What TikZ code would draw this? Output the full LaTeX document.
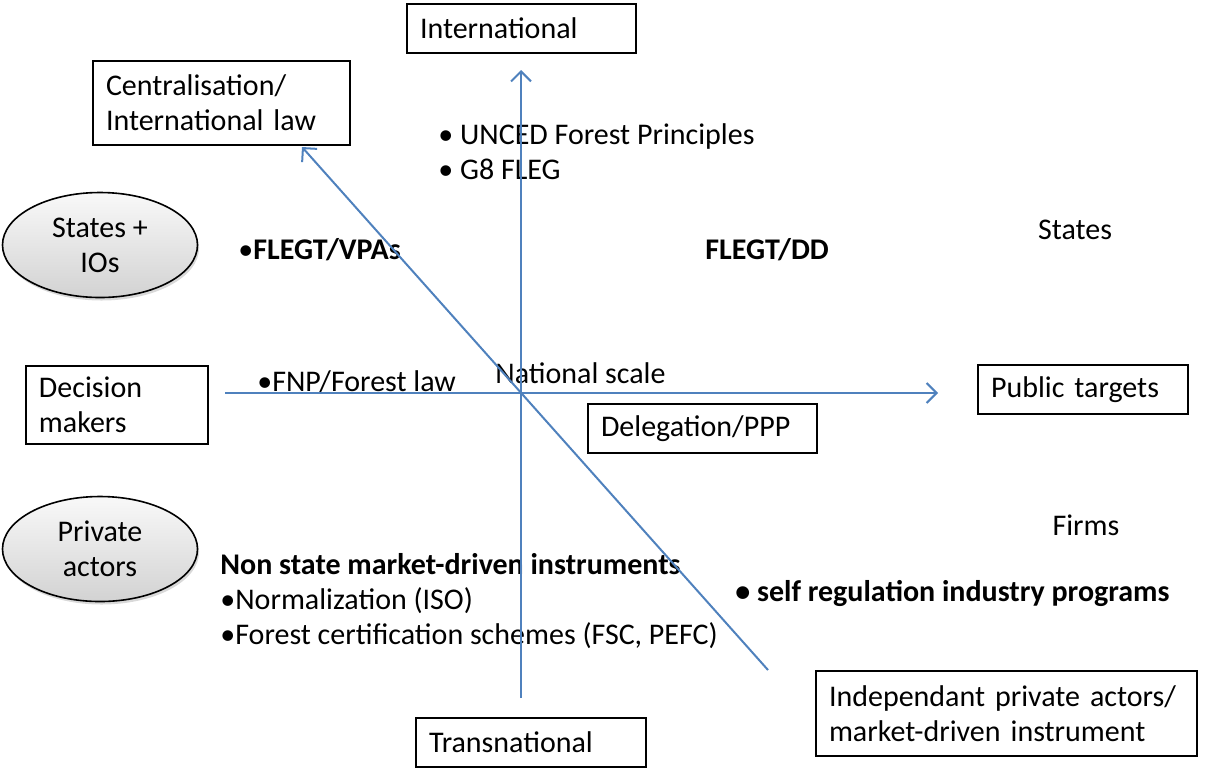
\documentclass[tikz,border=0pt]{standalone}
\usepackage{fontspec}
\setmainfont{Carlito}
\usetikzlibrary{arrows.meta,shapes.geometric,shadows}
\definecolor{axisblue}{RGB}{79,129,189}

\begin{document}
\begin{tikzpicture}[x=0.5pt, y=-0.5pt, font=\fontsize{15}{17.5}\selectfont,
    box/.style={draw, line width=1pt, anchor=north west, align=left,
      inner xsep=6.5pt, inner ysep=0pt},
    actor/.style={draw, line width=0.8pt, ellipse, minimum width=97.5pt,
      minimum height=52.5pt, align=center, inner sep=0pt,
      top color=gray!5, bottom color=gray!35,
      drop shadow={opacity=0.3, shadow xshift=0.8pt, shadow yshift=-1.5pt}},
    lbl/.style={anchor=west, inner sep=0pt, align=left},
    axis/.style={draw=axisblue, line width=1pt,
      -{Straight Barb[length=5pt, width=10pt]}}]
  \useasboundingbox (0,0) rectangle (1208,767);

  \node[box, text width=101.5pt, minimum height=24.5pt] (intl) at (406,3)
    {International};
  \node[box, text width=115.5pt, minimum height=42pt] (centr) at (92,60)
    {Centralisation/\\International law};
  \node[box, text width=78pt, minimum height=39pt] (dec) at (25,365)
    {Decision\\makers};
  \node[box, text width=92pt, minimum height=24.5pt] (pub) at (977,364)
    {Public targets};
  \node[box, text width=101.5pt, minimum height=24.5pt] (deleg) at (587,403)
    {Delegation/PPP};
  \node[box, text width=102pt, minimum height=24.5pt] (trans) at (415,717)
    {Transnational};
  \node[box, text width=177.5pt, minimum height=42.5pt] (indep) at (815,670)
    {Independant private actors/\\market-driven instrument};

  \node[actor] (states) at (100,245) {States +\\IOs};
  \node[actor] (priv) at (100,549) {Private\\actors};

  \node[lbl] (unced) at (438,152) {• UNCED Forest Principles\\• G8 FLEG};
  \node[lbl] (vpa) at (238,250) {•\textbf{FLEGT/VPAs}};
  \node[lbl] (dd) at (705,250) {\textbf{FLEGT/DD}};
  \node (stlbl) at (1075,230) {States};
  \node (firms) at (1086,525) {Firms};
  \node[lbl] (natl) at (495,373) {National scale};
  \node[lbl] (fnp) at (257,382) {•FNP/Forest law};
  \node[lbl] (nonstate) at (220,601)
    {\textbf{Non state market-driven instruments}\\•Normalization (ISO)\\
     •Forest certification schemes (FSC, PEFC)};
  \node[lbl] (selfreg) at (735,593)
    {\textbf{• self regulation industry programs}};

  \coordinate (hl) at (225,393);
  \coordinate (hr) at (938,393);
  \coordinate (vb) at (521,698);
  \coordinate (vt) at (521,70);
  \coordinate (db) at (768,670);
  \coordinate (dt) at (302,147);
  \draw[axis] (hl) -- (hr);
  \draw[axis] (vb) -- (vt);
  \draw[axis] (db) -- (dt);
\end{tikzpicture}
\end{document}
